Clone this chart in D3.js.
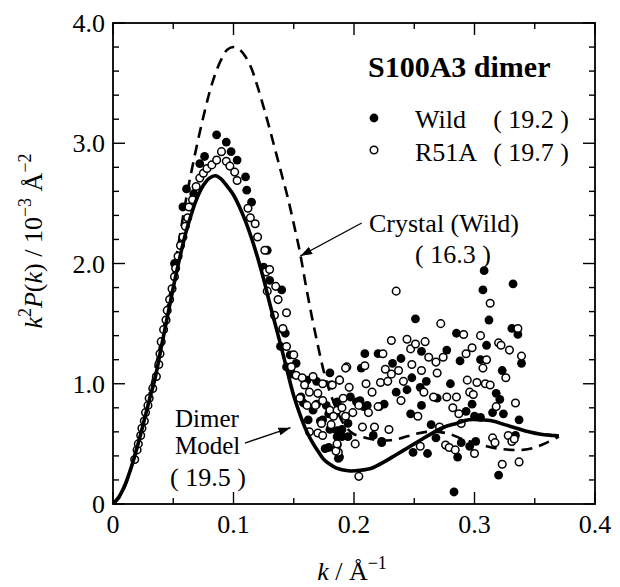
<!DOCTYPE html>
<html>
<head>
<meta charset="utf-8">
<script src="https://cdn.jsdelivr.net/npm/d3@7"></script>
<style>
  body { margin: 0; background: #fff; }
  text { font-family: "Liberation Serif", "Times New Roman", serif; fill: #000; }
</style>
</head>
<body>
<div id="chart-area"></div>
<script>
// tick values
const xMajorTicks = [0, 0.1, 0.2, 0.3, 0.4];
const xMinorTicks = [0.05, 0.15, 0.25, 0.35];
const yMajorTicks = [0, 1, 2, 3, 4];
const yMinorTicks = [0.2, 0.4, 0.6, 0.8, 1.2, 1.4, 1.6, 1.8, 2.2, 2.4, 2.6, 2.8, 3.2, 3.4, 3.6, 3.8];
const yTickLabels = ['0', '1.0', '2.0', '3.0', '4.0'];
const xTickLabels = ['0', '0.1', '0.2', '0.3', '0.4'];

// Dimer model (solid) [k, k^2 P(k)]
const dimerModel = [
  [0, 0], [0.005, 0.06], [0.010, 0.16], [0.015, 0.30], [0.020, 0.47], [0.025, 0.66],
  [0.030, 0.86], [0.035, 1.05], [0.040, 1.30], [0.045, 1.55], [0.050, 1.80], [0.055, 2.03],
  [0.060, 2.24], [0.065, 2.41], [0.070, 2.55], [0.075, 2.65], [0.080, 2.71], [0.085, 2.73],
  [0.090, 2.70], [0.095, 2.64], [0.100, 2.57], [0.105, 2.47], [0.110, 2.35], [0.115, 2.21],
  [0.120, 2.05], [0.125, 1.87], [0.130, 1.67], [0.135, 1.48], [0.140, 1.29], [0.145, 1.09],
  [0.150, 0.90], [0.155, 0.75], [0.160, 0.62], [0.165, 0.52], [0.170, 0.44], [0.175, 0.37],
  [0.180, 0.33], [0.185, 0.30], [0.190, 0.285], [0.197, 0.275], [0.205, 0.28], [0.215, 0.30],
  [0.225, 0.35], [0.235, 0.41], [0.245, 0.47], [0.255, 0.53], [0.265, 0.59], [0.275, 0.64],
  [0.285, 0.67], [0.295, 0.70], [0.305, 0.70], [0.315, 0.69], [0.325, 0.66], [0.335, 0.63],
  [0.345, 0.60], [0.355, 0.58], [0.365, 0.57], [0.370, 0.565]
];

// Crystal (Wild) (dashed)
const crystalModel = [
  [0, 0], [0.005, 0.05], [0.010, 0.15], [0.015, 0.30], [0.020, 0.48], [0.025, 0.68],
  [0.030, 0.90], [0.035, 1.12], [0.040, 1.36], [0.045, 1.62], [0.050, 1.90], [0.055, 2.20],
  [0.060, 2.50], [0.065, 2.76], [0.070, 3.00], [0.075, 3.22], [0.080, 3.42], [0.085, 3.58],
  [0.090, 3.70], [0.095, 3.78], [0.100, 3.80], [0.105, 3.78], [0.110, 3.72], [0.115, 3.62],
  [0.120, 3.47], [0.125, 3.30], [0.130, 3.12], [0.135, 2.93], [0.140, 2.74], [0.145, 2.55],
  [0.150, 2.33], [0.155, 2.10], [0.160, 1.82], [0.165, 1.56], [0.170, 1.32], [0.175, 1.10],
  [0.180, 0.93], [0.185, 0.80], [0.190, 0.69], [0.195, 0.62], [0.200, 0.58], [0.210, 0.55],
  [0.220, 0.53], [0.230, 0.53], [0.240, 0.55], [0.250, 0.58], [0.260, 0.60], [0.270, 0.60],
  [0.280, 0.58], [0.290, 0.54], [0.300, 0.51], [0.310, 0.48], [0.320, 0.46], [0.330, 0.45],
  [0.340, 0.45], [0.350, 0.47], [0.360, 0.51], [0.370, 0.56]
];

// Wild (filled circles)
const wildPoints = [
  [0.051, 2.00], [0.058, 2.47], [0.061, 2.62], [0.067, 2.58], [0.072, 2.83], [0.076, 2.89],
  [0.086, 3.07], [0.094, 3.01], [0.098, 2.93], [0.103, 2.86], [0.110, 2.72], [0.111, 2.61],
  [0.115, 2.51], [0.125, 1.97], [0.128, 2.11], [0.130, 1.86], [0.140, 1.78], [0.141, 1.45],
  [0.143, 1.42], [0.139, 1.31], [0.147, 1.24], [0.152, 1.17], [0.144, 1.14], [0.149, 1.08],
  [0.159, 1.03], [0.161, 1.03], [0.169, 1.02], [0.156, 0.89], [0.158, 0.84], [0.166, 0.78],
  [0.169, 0.83], [0.177, 0.82], [0.186, 0.85], [0.179, 0.75], [0.162, 0.70], [0.174, 0.70],
  [0.172, 0.69], [0.180, 0.62], [0.186, 0.56], [0.186, 0.61], [0.190, 0.56], [0.176, 0.46],
  [0.179, 0.47], [0.188, 0.39], [0.187, 0.38], [0.190, 0.62], [0.195, 0.67], [0.195, 0.56],
  [0.197, 0.89], [0.202, 0.85], [0.205, 0.86], [0.211, 0.82], [0.221, 0.81], [0.223, 0.51],
  [0.180, 1.09], [0.186, 0.84], [0.206, 1.13], [0.208, 0.81], [0.209, 1.25], [0.216, 0.57],
  [0.220, 1.25], [0.223, 0.52], [0.225, 0.83], [0.232, 1.17], [0.235, 0.93], [0.239, 1.21],
  [0.244, 0.95], [0.247, 0.75], [0.248, 1.05], [0.249, 0.43], [0.251, 1.54], [0.255, 0.97],
  [0.256, 1.27], [0.256, 0.82], [0.260, 1.02], [0.261, 0.42], [0.264, 0.66], [0.268, 0.55],
  [0.269, 0.88], [0.277, 1.28], [0.280, 1.00], [0.283, 0.10], [0.285, 1.42], [0.286, 0.39],
  [0.288, 1.19], [0.289, 0.51], [0.293, 0.77], [0.296, 0.48], [0.298, 0.83], [0.300, 0.73],
  [0.301, 0.52], [0.305, 0.72], [0.305, 1.20], [0.307, 1.78], [0.308, 1.94], [0.310, 1.32],
  [0.312, 1.53], [0.315, 0.76], [0.318, 0.92], [0.320, 0.24], [0.321, 0.87], [0.323, 1.11],
  [0.324, 0.75], [0.331, 1.46], [0.332, 1.83], [0.334, 0.57], [0.336, 1.41], [0.337, 0.70],
  [0.339, 1.17]
];

// R51A (open circles)
const r51aPoints = [
  [0.018, 0.37], [0.020, 0.45], [0.021, 0.50], [0.023, 0.57], [0.024, 0.63], [0.026, 0.69],
  [0.027, 0.76], [0.029, 0.82], [0.030, 0.88], [0.033, 0.96], [0.036, 1.06], [0.038, 1.16],
  [0.039, 1.25], [0.040, 1.35], [0.042, 1.45], [0.044, 1.53], [0.045, 1.61], [0.047, 1.70],
  [0.049, 1.79], [0.051, 1.89], [0.052, 1.96], [0.054, 2.06], [0.056, 2.15], [0.058, 2.22],
  [0.060, 2.31], [0.062, 2.38], [0.063, 2.47], [0.066, 2.53], [0.069, 2.64], [0.072, 2.71],
  [0.075, 2.75], [0.078, 2.79], [0.082, 2.82], [0.086, 2.86], [0.090, 2.93], [0.094, 2.85],
  [0.097, 2.81], [0.101, 2.76], [0.103, 2.69], [0.112, 2.46], [0.114, 2.38], [0.118, 2.33],
  [0.120, 2.22], [0.126, 2.11], [0.127, 1.93], [0.130, 1.95], [0.128, 1.77], [0.135, 1.81],
  [0.137, 1.70], [0.134, 1.57], [0.144, 1.59], [0.141, 1.46], [0.144, 1.31], [0.150, 1.24],
  [0.148, 1.14], [0.152, 1.07], [0.157, 1.05], [0.159, 0.99], [0.166, 1.06], [0.163, 0.93],
  [0.170, 0.92], [0.174, 1.00], [0.181, 0.99], [0.188, 1.03], [0.194, 1.14], [0.155, 0.88],
  [0.161, 0.82], [0.168, 0.82], [0.174, 0.86], [0.180, 0.78], [0.186, 0.78], [0.190, 0.80],
  [0.163, 0.60], [0.170, 0.59], [0.174, 0.57], [0.186, 0.49], [0.187, 0.43], [0.173, 0.67],
  [0.181, 0.66], [0.182, 0.99], [0.183, 0.73], [0.185, 0.44], [0.186, 0.50], [0.188, 1.03],
  [0.191, 0.88], [0.193, 1.13], [0.193, 0.73], [0.196, 0.97], [0.199, 0.76], [0.201, 0.50],
  [0.204, 0.82], [0.204, 0.23], [0.207, 0.64], [0.209, 1.15], [0.210, 1.00], [0.212, 0.76],
  [0.215, 0.93], [0.217, 0.64], [0.220, 0.81], [0.222, 1.01], [0.224, 1.25], [0.226, 1.12],
  [0.228, 1.02], [0.229, 0.62], [0.231, 1.36], [0.231, 1.08], [0.235, 1.77], [0.237, 1.11],
  [0.239, 0.86], [0.241, 1.02], [0.244, 1.37], [0.247, 1.29], [0.248, 1.16], [0.251, 1.33],
  [0.253, 0.73], [0.255, 0.48], [0.256, 1.11], [0.258, 0.93], [0.259, 1.35], [0.262, 1.22],
  [0.266, 0.89], [0.268, 1.18], [0.269, 1.09], [0.271, 0.64], [0.272, 1.50], [0.274, 1.22],
  [0.276, 0.49], [0.277, 0.89], [0.279, 0.47], [0.282, 0.80], [0.284, 0.45], [0.285, 0.89],
  [0.287, 0.75], [0.289, 0.67], [0.291, 1.41], [0.293, 1.25], [0.294, 1.03], [0.296, 0.93],
  [0.298, 1.30], [0.299, 0.91], [0.300, 0.42], [0.302, 1.01], [0.305, 1.40], [0.307, 1.13],
  [0.309, 1.00], [0.310, 1.20], [0.313, 1.67], [0.313, 0.99], [0.315, 0.55], [0.317, 0.51],
  [0.318, 0.81], [0.320, 1.34], [0.322, 1.32], [0.323, 0.33], [0.326, 1.05], [0.328, 0.57],
  [0.329, 1.28], [0.331, 0.52], [0.333, 0.54], [0.334, 0.84], [0.336, 1.46], [0.337, 0.35],
  [0.339, 1.23]
];

const margin = { left: 113, top: 23, right: 25, bottom: 83 };
const width = 482;
const height = 481;

const svg = d3.select('#chart-area').append('svg')
  .attr('width', 620)
  .attr('height', 587);

const g = svg.append('g')
  .attr('transform', `translate(${margin.left}, ${margin.top})`);

const x = d3.scaleLinear().domain([0, 0.4]).range([0, width]);
const y = d3.scaleLinear().domain([0, 4]).range([height, 0]);

// frame
g.append('rect')
  .attr('width', width).attr('height', height)
  .attr('fill', 'none').attr('stroke', '#000').attr('stroke-width', 1.8);

// inward ticks on all four sides
const tickLen = (major) => major ? 12 : 6;
function xTicks(vals, major) {
  vals.forEach(v => {
    g.append('line').attr('x1', x(v)).attr('x2', x(v))
      .attr('y1', height).attr('y2', height - tickLen(major))
      .attr('stroke', '#000').attr('stroke-width', 1.4);
    g.append('line').attr('x1', x(v)).attr('x2', x(v))
      .attr('y1', 0).attr('y2', tickLen(major))
      .attr('stroke', '#000').attr('stroke-width', 1.4);
  });
}
function yTicks(vals, major) {
  vals.forEach(v => {
    g.append('line').attr('x1', 0).attr('x2', tickLen(major))
      .attr('y1', y(v)).attr('y2', y(v))
      .attr('stroke', '#000').attr('stroke-width', 1.4);
    g.append('line').attr('x1', width).attr('x2', width - tickLen(major))
      .attr('y1', y(v)).attr('y2', y(v))
      .attr('stroke', '#000').attr('stroke-width', 1.4);
  });
}
xTicks(xMajorTicks, true);
xTicks(xMinorTicks, false);
yTicks(yMajorTicks, true);
yTicks(yMinorTicks, false);

// tick labels
g.selectAll('.xlab').data(xMajorTicks).enter().append('text')
  .attr('x', d => x(d)).attr('y', height + 29)
  .attr('text-anchor', 'middle').attr('font-size', '26px')
  .text((d, i) => xTickLabels[i]);

g.selectAll('.ylab').data(yMajorTicks).enter().append('text')
  .attr('x', -8).attr('y', d => y(d) + 9)
  .attr('text-anchor', 'end').attr('font-size', '26px')
  .text((d, i) => yTickLabels[i]);

// axis titles
const xt = svg.append('text')
  .attr('x', 352).attr('y', 580)
  .attr('text-anchor', 'middle').attr('font-size', '26px');
xt.append('tspan').attr('font-style', 'italic').text('k');
xt.append('tspan').text(' / Å');
xt.append('tspan').attr('font-size', '18px').attr('dy', -11).text('−1');

const yt = svg.append('text')
  .attr('transform', 'translate(42, 241) rotate(-90)')
  .attr('text-anchor', 'middle').attr('font-size', '26px');
yt.append('tspan').attr('font-style', 'italic').text('k');
yt.append('tspan').attr('font-size', '18px').attr('dy', -11).text('2');
yt.append('tspan').attr('font-style', 'italic').attr('dy', 11).text('P');
yt.append('tspan').text('(');
yt.append('tspan').attr('font-style', 'italic').text('k');
yt.append('tspan').text(') / 10');
yt.append('tspan').attr('font-size', '18px').attr('dy', -11).text('−3');
yt.append('tspan').attr('dy', 11).text(' Å');
yt.append('tspan').attr('font-size', '18px').attr('dy', -11).text('−2');

// clip for plotted content
svg.append('defs').append('clipPath').attr('id', 'plotclip')
  .append('rect').attr('width', width).attr('height', height);

const plot = g.append('g').attr('clip-path', 'url(#plotclip)');

const line = d3.line()
  .x(d => x(d[0]))
  .y(d => y(d[1]))
  .curve(d3.curveCatmullRom.alpha(0.5));

// crystal dashed curve
plot.append('path')
  .datum(crystalModel)
  .attr('d', line)
  .attr('fill', 'none').attr('stroke', '#000')
  .attr('stroke-width', 2.6).attr('stroke-dasharray', '11,7');

// data points
plot.selectAll('.wild').data(wildPoints).enter().append('circle')
  .attr('cx', d => x(d[0])).attr('cy', d => y(d[1]))
  .attr('r', 4.4).attr('fill', '#000');

plot.selectAll('.r51a').data(r51aPoints).enter().append('circle')
  .attr('cx', d => x(d[0])).attr('cy', d => y(d[1]))
  .attr('r', 3.8).attr('fill', '#fff')
  .attr('stroke', '#000').attr('stroke-width', 1.5);

// dimer model solid curve
plot.append('path')
  .datum(dimerModel)
  .attr('d', line)
  .attr('fill', 'none').attr('stroke', '#000')
  .attr('stroke-width', 3.6).attr('stroke-linejoin', 'round');

// arrow marker
svg.select('defs').append('marker')
  .attr('id', 'arrow').attr('viewBox', '0 0 12 8')
  .attr('refX', 12).attr('refY', 4)
  .attr('markerWidth', 12).attr('markerHeight', 8)
  .attr('markerUnits', 'userSpaceOnUse')
  .attr('orient', 'auto')
  .append('path').attr('d', 'M0,0 L12,4 L0,8 Z').attr('fill', '#000');

// annotations
const crystalArrow = { from: [0.2064, 2.337], to: [0.1554, 2.062] };
const dimerArrow = { from: [0.1095, 0.507], to: [0.1473, 0.635] };
[crystalArrow, dimerArrow].forEach(a => {
  g.append('line')
    .attr('x1', x(a.from[0])).attr('y1', y(a.from[1]))
    .attr('x2', x(a.to[0])).attr('y2', y(a.to[1]))
    .attr('stroke', '#000').attr('stroke-width', 1.3)
    .attr('marker-end', 'url(#arrow)');
});

svg.append('text').attr('x', 369).attr('y', 232).attr('font-size', '26px').text('Crystal (Wild)');
svg.append('text').attr('x', 453).attr('y', 263).attr('font-size', '26px')
  .attr('text-anchor', 'middle').attr('xml:space', 'preserve').text('( 16.3 )');

svg.append('text').attr('x', 175).attr('y', 427).attr('font-size', '25px').text('Dimer');
svg.append('text').attr('x', 175).attr('y', 454).attr('font-size', '25px').text('Model');
svg.append('text').attr('x', 208).attr('y', 486).attr('font-size', '26px')
  .attr('text-anchor', 'middle').attr('xml:space', 'preserve').text('( 19.5 )');

// legend
svg.append('text').attr('x', 368).attr('y', 77)
  .attr('font-size', '30px').attr('font-weight', 'bold').text('S100A3 dimer');

svg.append('circle').attr('cx', 374).attr('cy', 118).attr('r', 4.4).attr('fill', '#000');
svg.append('circle').attr('cx', 374).attr('cy', 150).attr('r', 3.8)
  .attr('fill', '#fff').attr('stroke', '#000').attr('stroke-width', 1.5);

svg.append('text').attr('x', 415).attr('y', 128).attr('font-size', '26px').text('Wild');
svg.append('text').attr('x', 569).attr('y', 128).attr('font-size', '26px')
  .attr('text-anchor', 'end').attr('xml:space', 'preserve').text('( 19.2 )');
svg.append('text').attr('x', 415).attr('y', 161).attr('font-size', '26px').text('R51A');
svg.append('text').attr('x', 569).attr('y', 161).attr('font-size', '26px')
  .attr('text-anchor', 'end').attr('xml:space', 'preserve').text('( 19.7 )');
</script>
</body>
</html>
